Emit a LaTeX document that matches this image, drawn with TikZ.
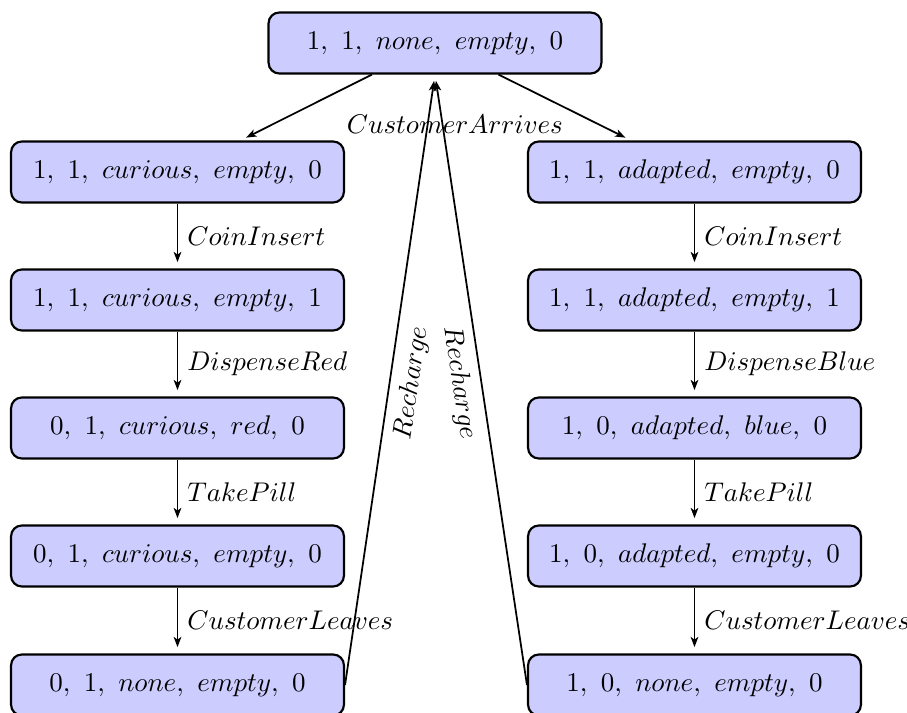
\documentclass[tikz,border=0pt]{standalone}
\usetikzlibrary{arrows.meta}
\begin{document}
\begin{tikzpicture}[x=0.37037pt,y=-0.37037pt,
  state/.style={draw,thick,rounded corners=4pt,fill=blue!20,minimum width=123.3pt,minimum height=22.6pt,inner sep=0pt},
  trans/.style={line width=0.65pt,-{Stealth[length=3.8pt,width=2.8pt,inset=1pt]},shorten >=2.3pt}]
\useasboundingbox (0,0) rectangle (907,713);
\node[state] (top) at (435,43) {$1,\ 1,\ none,\ empty,\ 0$};
\node[state] (L1) at (177.5,172) {$1,\ 1,\ curious,\ empty,\ 0$};
\node[state] (L2) at (177.5,300) {$1,\ 1,\ curious,\ empty,\ 1$};
\node[state] (L3) at (177.5,428) {$0,\ 1,\ curious,\ red,\ 0$};
\node[state] (L4) at (177.5,556) {$0,\ 1,\ curious,\ empty,\ 0$};
\node[state] (L5) at (177.5,685) {$0,\ 1,\ none,\ empty,\ 0$};
\node[state] (R1) at (694.5,172) {$1,\ 1,\ adapted,\ empty,\ 0$};
\node[state] (R2) at (694.5,300) {$1,\ 1,\ adapted,\ empty,\ 1$};
\node[state] (R3) at (694.5,428) {$1,\ 0,\ adapted,\ blue,\ 0$};
\node[state] (R4) at (694.5,556) {$1,\ 0,\ adapted,\ empty,\ 0$};
\node[state] (R5) at (694.5,685) {$1,\ 0,\ none,\ empty,\ 0$};
\draw[trans] (top) -- (L1);
\draw[trans] (top) -- (R1);
\node (ca) at (455,124) {$CustomerArrives$};
\draw[trans] (L1) -- node[right]{$CoinInsert$} (L2);
\draw[trans] (L2) -- node[right]{$DispenseRed$} (L3);
\draw[trans] (L3) -- node[right]{$TakePill$} (L4);
\draw[trans] (L4) -- node[right]{$CustomerLeaves$} (L5);
\draw[trans] (R1) -- node[right]{$CoinInsert$} (R2);
\draw[trans] (R2) -- node[right]{$DispenseBlue$} (R3);
\draw[trans] (R3) -- node[right]{$TakePill$} (R4);
\draw[trans] (R4) -- node[right]{$CustomerLeaves$} (R5);
\draw[trans] (L5.east) -- node[midway,sloped,below]{$Recharge$} (top.south);
\draw[trans] (R5.west) -- node[midway,sloped,below]{$Recharge$} (top.south);
\end{tikzpicture}
\end{document}
